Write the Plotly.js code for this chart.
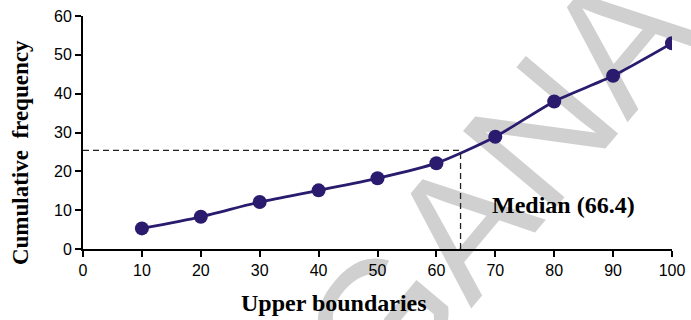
<!DOCTYPE html>
<html>
<head>
<meta charset="utf-8">
<script src="https://cdn.plot.ly/plotly-3.0.1.min.js"></script>
<style>html,body{margin:0;padding:0;background:#fff;}#chart{width:691px;height:320px;}</style>
</head>
<body>
<div id="chart"></div>
<script>
const upperBoundaries = [10, 20, 30, 40, 50, 60, 70, 80, 90, 100];
const cumulativeFrequency = [5.3, 8.3, 12.1, 15.1, 18.2, 22.1, 28.9, 38, 44.6, 53];
const xTicks = [0, 10, 20, 30, 40, 50, 60, 70, 80, 90, 100];
const yTicks = [0, 10, 20, 30, 40, 50, 60];
const medianX = 64.1;
const medianY = 25.4;
const medianLabel = 'Median (66.4)';
const xTitle = 'Upper boundaries';
const yTitle = 'Cumulative  frequency';
const watermark = 'GANA';

const navy = '#2a1b6e';

const trace = {
  x: upperBoundaries,
  y: cumulativeFrequency,
  type: 'scatter',
  mode: 'lines+markers',
  line: {color: navy, width: 2.8, shape: 'spline', smoothing: 0.7},
  marker: {color: navy, size: 14},
  hoverinfo: 'skip'
};

const layout = {
  width: 691, height: 320,
  margin: {l: 83, r: 19, t: 16, b: 71},
  paper_bgcolor: '#fff', plot_bgcolor: 'rgba(0,0,0,0)',
  showlegend: false,
  xaxis: {
    range: [0, 100], tickvals: xTicks, ticktext: xTicks.map(String),
    showgrid: false, zeroline: false, showline: true, linecolor: '#000', linewidth: 2,
    ticks: 'outside', ticklen: 6, tickwidth: 2, tickcolor: '#000',
    tickfont: {family: 'Liberation Sans, Arial, sans-serif', size: 16, color: '#000'},
    fixedrange: true
  },
  yaxis: {
    range: [0, 60], tickvals: yTicks, ticktext: yTicks.map(String),
    showgrid: false, zeroline: false, showline: true, linecolor: '#000', linewidth: 2,
    ticks: 'outside', ticklen: 6, tickwidth: 2, tickcolor: '#000',
    tickfont: {family: 'Liberation Sans, Arial, sans-serif', size: 16, color: '#000'},
    fixedrange: true
  },
  shapes: [
    {type: 'rect', xref: 'paper', yref: 'paper', x0: 0.36, x1: 1.0, y0: -0.3, y1: 0.95,
     layer: 'below', line: {width: 0}, fillcolor: 'rgba(0,0,0,0)',
     label: {text: watermark, textangle: -50, font: {family: 'Liberation Sans, Arial, sans-serif', size: 175, color: '#d0d0d0'}}},
    {type: 'line', xref: 'x', yref: 'y', x0: 0, x1: medianX, y0: medianY, y1: medianY,
     line: {color: '#222', width: 1.3, dash: '6px,4px'}},
    {type: 'line', xref: 'x', yref: 'y', x0: medianX, x1: medianX, y0: 0, y1: medianY,
     line: {color: '#222', width: 1.3, dash: '6px,4px'}}
  ],
  annotations: [
    {text: '<b>' + medianLabel + '</b>', xref: 'paper', yref: 'paper', x: 0.815, y: 0.189,
     xanchor: 'center', yanchor: 'middle', showarrow: false,
     font: {family: 'Liberation Serif, Times New Roman, serif', size: 24, color: '#000'}},
    {text: '<b>' + xTitle + '</b>', xref: 'paper', yref: 'paper', x: 0.426, y: -0.232,
     xanchor: 'center', yanchor: 'middle', showarrow: false,
     font: {family: 'Liberation Serif, Times New Roman, serif', size: 24, color: '#000'}},
    {text: '<b>' + yTitle + '</b>', xref: 'paper', yref: 'paper', x: -0.107, y: 0.416,
     xanchor: 'center', yanchor: 'middle', showarrow: false, textangle: -90,
     font: {family: 'Liberation Serif, Times New Roman, serif', size: 23, color: '#000'}}
  ]
};

Plotly.newPlot('chart', [trace], layout, {staticPlot: true, displayModeBar: false});
</script>
</body>
</html>
